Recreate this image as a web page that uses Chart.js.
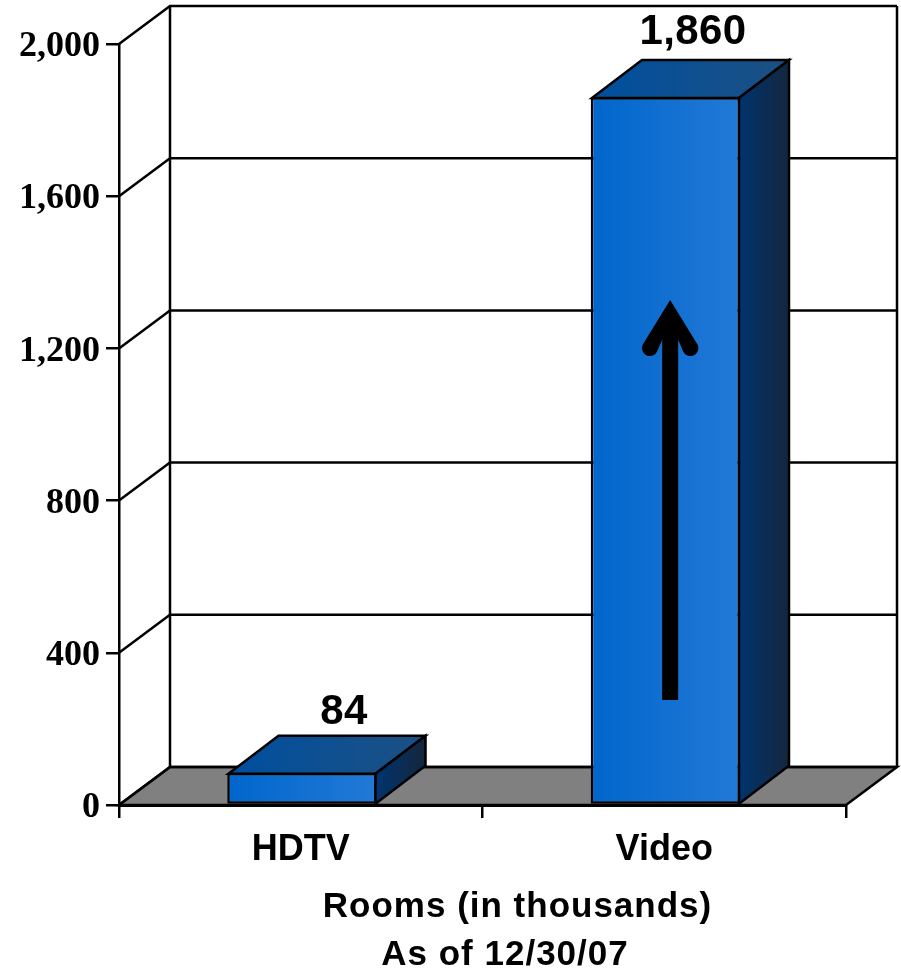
<!DOCTYPE html>
<html>
<head>
<meta charset="utf-8">
<script src="https://cdn.jsdelivr.net/npm/chart.js@4/dist/chart.umd.min.js"></script>
<style>
    html, body { margin: 0; padding: 0; background: #fff; }
    #wrap { width: 901px; height: 969px; }
</style>
</head>
<body>
<div id="wrap"><canvas id="elGrafico" width="901" height="969"></canvas></div>
<script>
const categorias = ["HDTV", "Video"]
const valores = [84, 1860]
const etiquetas = ["84", "1,860"]
const ticksY = [0, 400, 800, 1200, 1600, 2000]
const titulos = ["Rooms (in thousands)", "As of 12/30/07"]
// where the arrow on the Video bar starts and ends, in rooms
const flechaDesde = 276
const flechaHasta = 1327

const fondoX = 51
const fondoBarraX = 50
const fondoY = 38
const anchoBarra = 149.5 / 363.5
const borde = 2.5

const degradado = (ctx, x0, x1, c0, c1) => {
    const g = ctx.createLinearGradient(x0, 0, x1, 0)
    g.addColorStop(0, c0)
    g.addColorStop(1, c1)
    return g
}

// back walls and floor, behind the bars
const paredes = {
    id: "paredes",
    // bars sit a little right of the category centres
    afterDatasetsUpdate(chart) {
        chart.getDatasetMeta(0).data.forEach((barra) => { barra.x += 1.25 })
    },
    beforeDatasetsDraw(chart) {
        const { ctx, scales: { x, y } } = chart
        const izq = x.left, der = x.right, base = y.getPixelForValue(0)

        ctx.save()
        ctx.fillStyle = "#808080"
        ctx.strokeStyle = "#000"
        ctx.lineWidth = borde
        ctx.beginPath()
        ctx.moveTo(izq, base)
        ctx.lineTo(izq + fondoX, base - fondoY)
        ctx.lineTo(der + fondoX, base - fondoY)
        ctx.lineTo(der, base)
        ctx.closePath()
        ctx.fill()
        ctx.stroke()

        ticksY.forEach((t) => {
            const py = y.getPixelForValue(t)
            ctx.beginPath()
            ctx.moveTo(izq, py)
            ctx.lineTo(izq + fondoX, py - fondoY)
            ctx.lineTo(der + fondoX, py - fondoY)
            ctx.stroke()
        })

        ctx.beginPath()
        ctx.moveTo(izq + fondoX, y.getPixelForValue(2000) - fondoY)
        ctx.lineTo(izq + fondoX, base - fondoY)
        ctx.moveTo(der + fondoX, y.getPixelForValue(2000) - fondoY)
        ctx.lineTo(der + fondoX, base - fondoY)
        ctx.stroke()
        ctx.restore()
    }
}

// top and side faces of each bar, value labels, arrow and the two caption lines
const volumen = {
    id: "volumen",
    afterDatasetsDraw(chart, args, opts) {
        const { ctx, scales: { x, y } } = chart
        ctx.save()
        ctx.strokeStyle = "#000"
        ctx.lineWidth = borde
        ctx.lineJoin = "miter"

        chart.getDatasetMeta(0).data.forEach((barra, i) => {
            // the library keeps the border inside the bar, so faces start from its centre line
            const x0 = barra.x - barra.width / 2 + borde / 2
            const x1 = barra.x + barra.width / 2 - borde / 2
            const top = barra.y + 0.75, bot = barra.base

            ctx.fillStyle = degradado(ctx, x0, x1 + fondoBarraX, "#004f9f", "#1c5082")
            ctx.beginPath()
            ctx.moveTo(x0, top)
            ctx.lineTo(x0 + fondoBarraX, top - fondoY)
            ctx.lineTo(x1 + fondoBarraX, top - fondoY)
            ctx.lineTo(x1, top)
            ctx.closePath()
            ctx.fill()
            ctx.stroke()

            ctx.fillStyle = degradado(ctx, x1, x1 + fondoBarraX, "#00346f", "#14263c")
            ctx.beginPath()
            ctx.moveTo(x1, top)
            ctx.lineTo(x1 + fondoBarraX, top - fondoY)
            ctx.lineTo(x1 + fondoBarraX, bot - fondoY)
            ctx.lineTo(x1, bot)
            ctx.closePath()
            ctx.fill()
            ctx.stroke()

            ctx.fillStyle = "#000"
            ctx.font = "bold 42px 'Liberation Sans'"
            ctx.letterSpacing = "0.4px"
            ctx.textAlign = "center"
            ctx.textBaseline = "alphabetic"
            ctx.fillText(etiquetas[i], barra.x + opts.corrimiento[i], top - fondoY - opts.alzado[i])
        })

        // arrow: square tail, round-ended barbs
        const ax = x.getPixelForValue(1) + 5.9
        const punta = y.getPixelForValue(flechaHasta)
        const cola = y.getPixelForValue(flechaDesde)
        ctx.fillStyle = "#000"
        ctx.fillRect(ax - 8, punta + 30, 16, cola - punta - 30)
        ctx.beginPath()
        ctx.moveTo(ax, punta)
        ctx.arc(ax + 20.3, punta + 48, 8, -0.4, Math.PI - 0.4)
        ctx.lineTo(ax + 8, punta + 39.6)
        ctx.lineTo(ax - 8, punta + 39.6)
        ctx.arc(ax - 20.3, punta + 48, 8, 0.4, Math.PI + 0.4)
        ctx.closePath()
        ctx.fill()

        ctx.font = "bold 35px 'Liberation Sans'"
        ctx.letterSpacing = "1px"
        ctx.textAlign = "center"
        ctx.textBaseline = "alphabetic"
        ctx.fillText(titulos[0], 517.5, 917)
        ctx.fillText(titulos[1], 505, 965)
        ctx.restore()
    }
}

new Chart("elGrafico", {
    type: "bar",
    data: {
        labels: categorias,
        datasets: [{
            data: valores,
            barPercentage: anchoBarra,
            categoryPercentage: 1,
            borderColor: "#000",
            borderWidth: borde,
            borderSkipped: false,
            backgroundColor: (c) => {
                const { ctx, scales } = c.chart
                const centro = scales.x ? scales.x.getPixelForValue(c.dataIndex) : NaN
                // the first pass runs before the layout has any sizes
                if (!Number.isFinite(centro) || !c.chart.chartArea) return "#0066cc"
                const medio = scales.x.width / categorias.length * anchoBarra / 2
                return degradado(ctx, centro - medio, centro + medio, "#0066cc", "#2279d6")
            }
        }]
    },
    plugins: [paredes, volumen],
    options: {
        responsive: false,
        animation: false,
        layout: { padding: { top: 44, right: 55, bottom: 0, left: 0 } },
        plugins: {
            legend: { display: false },
            tooltip: { enabled: false },
            volumen: { corrimiento: [42, 27.5], alzado: [12, 16] }
        },
        scales: {
            x: {
                afterFit: (s) => { s.height = 164 },
                border: { color: "#000", width: 3 },
                grid: {
                    offset: true,
                    drawOnChartArea: false,
                    color: "#000",
                    lineWidth: 2.5,
                    tickLength: 13
                },
                ticks: {
                    color: "#000",
                    padding: 10,
                    font: { family: "'Liberation Sans'", size: 36, weight: "bold" },
                    maxRotation: 0
                }
            },
            y: {
                min: 0,
                max: 2000,
                afterFit: (s) => { s.width = 119 },
                afterBuildTicks: (s) => { s.ticks = ticksY.map((v) => ({ value: v })) },
                border: { color: "#000", width: 2.5 },
                grid: {
                    drawOnChartArea: false,
                    color: "#000",
                    lineWidth: 2.5,
                    tickLength: 13
                },
                ticks: {
                    color: "#000",
                    padding: 6,
                    labelOffset: 3,
                    font: { family: "'Liberation Serif'", size: 36, weight: "bold" },
                    callback: (v) => v.toLocaleString("en-US")
                }
            }
        }
    }
})
</script>
</body>
</html>
